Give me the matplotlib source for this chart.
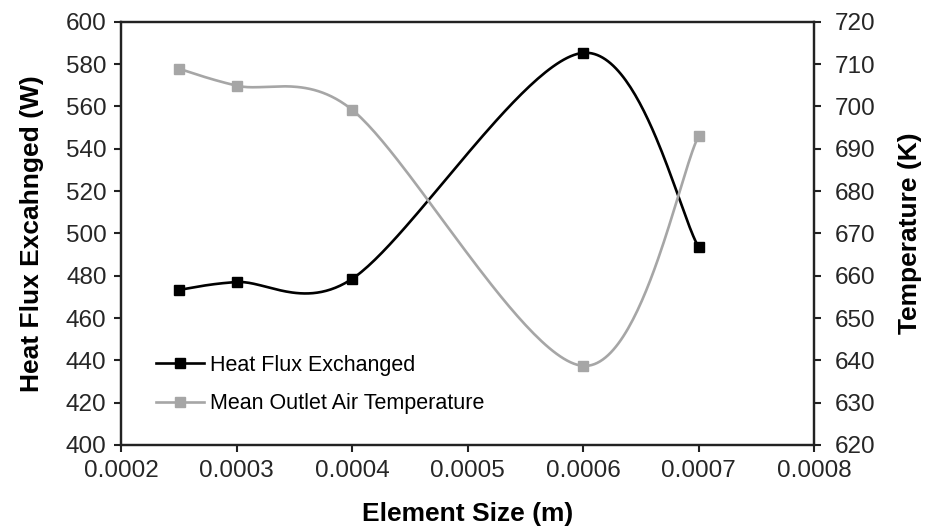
import numpy as np
import matplotlib
matplotlib.use('Agg')
import matplotlib.pyplot as plt

plt.rcParams['font.family'] = ['Liberation Sans', 'DejaVu Sans']

element_size = [0.00025, 0.0003, 0.0004, 0.0006, 0.0007]
heat_flux = [473.3, 477.0, 478.5, 585.3, 493.6]
temperature = [708.9, 704.9, 699.2, 638.7, 693.0]

x_ticks = [0.0002, 0.0003, 0.0004, 0.0005, 0.0006, 0.0007, 0.0008]
left_ticks = list(range(400, 601, 20))
right_ticks = list(range(620, 721, 10))


def smooth(xs, ys, sx, sy, n=60):
    # Excel style smoothed line: bezier segments, control points clamped
    # to half the neighbouring segment length (measured in pixels)
    p = np.column_stack([np.asarray(xs, float) * sx, np.asarray(ys, float) * sy])
    m = len(p)
    fwd = np.zeros_like(p)
    bwd = np.zeros_like(p)
    for i in range(m):
        a = p[max(i - 1, 0)]
        b = p[min(i + 1, m - 1)]
        d02 = np.linalg.norm(b - a)
        if d02 == 0:
            continue
        d01 = np.linalg.norm(p[i] - a)
        d12 = np.linalg.norm(b - p[i])
        fb = min(1 / 6, d01 / (2 * d02)) if i > 0 else 0
        ff = min(1 / 6, d12 / (2 * d02)) if i < m - 1 else 0
        bwd[i] = p[i] - (b - a) * fb
        fwd[i] = p[i] + (b - a) * ff
    t = np.linspace(0, 1, n)[:, None]
    out = []
    for i in range(m - 1):
        seg = (1 - t) ** 3 * p[i] + 3 * (1 - t) ** 2 * t * fwd[i] \
            + 3 * (1 - t) * t ** 2 * bwd[i + 1] + t ** 3 * p[i + 1]
        out.append(seg)
    out = np.vstack(out)
    return out[:, 0] / sx, out[:, 1] / sy


fig = plt.figure(figsize=(9.25, 5.31), dpi=100)
ax = fig.add_axes([0.131, 0.162, 0.749, 0.797])
ax2 = ax.twinx()

black = '#000000'
gray = '#a6a6a6'

ax.set_xlim(0.0002, 0.0008)
ax.set_ylim(400, 600)
ax2.set_ylim(620, 720)

# pixel scale of each axis, used for the smoothing
bbox = ax.get_position()
wpx = bbox.width * 925
hpx = bbox.height * 531
xs_px = wpx / 0.0006

cx, cy = smooth(element_size, heat_flux, xs_px, hpx / 200)
ax.plot(cx, cy, color=black, lw=1.9, zorder=3)
ax.plot(element_size, heat_flux, 's', color=black, ms=7.5, zorder=4)

tx, ty = smooth(element_size, temperature, xs_px, hpx / 100)
ax2.plot(tx, ty, color=gray, lw=1.9)
ax2.plot(element_size, temperature, 's', color=gray, ms=7.5)

ax.set_xticks(x_ticks)
ax.set_xticklabels([f'{v:.4f}' for v in x_ticks])
ax.set_yticks(left_ticks)
ax2.set_yticks(right_ticks)

for a in (ax, ax2):
    a.tick_params(direction='out', length=5, width=1.5, labelsize=17.5, colors='#222222', labelcolor='#262626')
    for s in a.spines.values():
        s.set_linewidth(1.6)
        s.set_color('#222222')
ax.tick_params(axis='x', pad=6)
ax.tick_params(axis='y', pad=5.5)
ax2.tick_params(axis='y', pad=10)

ax.set_xlabel('Element Size (m)', fontsize=19, fontweight='bold', labelpad=14)
ax.set_ylabel('Heat Flux Excahnged (W)', fontsize=19, fontweight='bold', labelpad=16)
ax2.set_ylabel('Temperature (K)', fontsize=19, fontweight='bold', labelpad=16)

h1 = plt.Line2D([], [], color=black, lw=1.9, marker='s', ms=7.5)
h2 = plt.Line2D([], [], color=gray, lw=1.9, marker='s', ms=7.5)
ax2.legend([h1, h2], ['Heat Flux Exchanged', 'Mean Outlet Air Temperature'],
           loc='lower left', bbox_to_anchor=(0.023, 0.027), frameon=False,
           fontsize=15.5, handlelength=2.2, handletextpad=0.3, labelspacing=0.8)

fig.savefig('out.png', dpi=100)
